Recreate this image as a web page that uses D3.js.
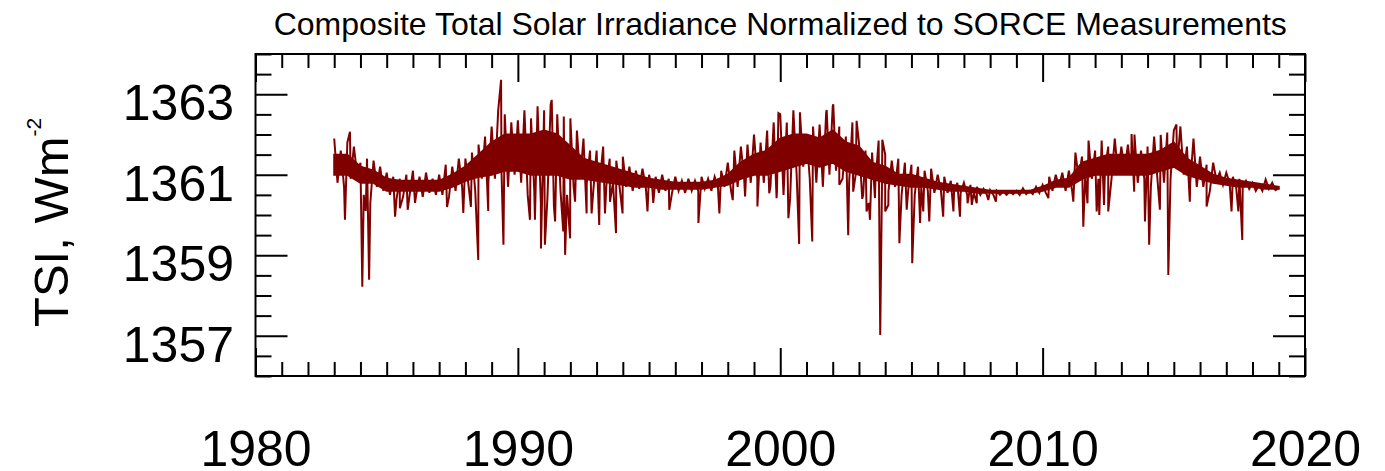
<!DOCTYPE html>
<html>
<head>
<meta charset="utf-8">
<script src="https://cdn.jsdelivr.net/npm/d3@7"></script>
<style>
  html, body { margin: 0; padding: 0; background: #fff; }
  svg { display: block; }
  text { font-family: "Liberation Sans", Arial, Helvetica, sans-serif; fill: #000; }
</style>
</head>
<body>
<svg id="chart" width="1385" height="471"></svg>
<script>
// ---------------- DATA ----------------
const titleText = "Composite Total Solar Irradiance Normalized to SORCE Measurements";
const yLabelMain = "TSI, Wm";
const yLabelSup = "-2";

const xTickLabels = [1980, 1990, 2000, 2010, 2020];
const yTickLabels = [1357, 1359, 1361, 1363];

// Excursions of the daily series, sampled every 1/8 year from 1983.0
// (alternating upper / lower excursions as read from the picture)
const baseStartYear = 1983;
const baseStepYears = 0.125;
const tsiBase = [
  1361.9, 1360.8, 1361.6, 1360.7, 1361.8, 1360.9, 1361.7, 1361.0,      // 1983
  1361.3, 1360.5, 1361.4, 1360.3, 1361.35, 1360.7, 1361.2, 1360.6,     // 1984
  1361.05, 1360.5, 1360.95, 1360.4, 1360.9, 1360.45, 1361.0, 1360.5,   // 1985
  1361.1, 1360.5, 1360.95, 1360.45, 1361.05, 1360.55, 1360.9, 1360.5,  // 1986
  1361.0, 1360.5, 1361.25, 1360.45, 1361.2, 1360.6, 1361.4, 1360.7,    // 1987
  1361.4, 1360.7, 1361.55, 1360.6, 1361.75, 1360.9, 1361.95, 1360.8,   // 1988
  1362.2, 1360.9, 1362.6, 1361.1, 1362.5, 1360.7, 1362.3, 1361.0,      // 1989
  1362.35, 1360.8, 1362.6, 1360.5, 1362.4, 1360.6, 1362.7, 1360.3,     // 1990
  1362.6, 1360.4, 1362.75, 1360.2, 1362.5, 1360.6, 1362.45, 1360.5,    // 1991
  1362.4, 1360.7, 1362.1, 1360.9, 1361.9, 1360.8, 1361.6, 1360.6,      // 1992
  1361.6, 1360.85, 1361.7, 1360.75, 1361.4, 1360.8, 1361.35, 1360.7,   // 1993
  1361.45, 1360.7, 1361.2, 1360.6, 1361.1, 1360.65, 1361.15, 1360.7,   // 1994
  1361.0, 1360.65, 1360.95, 1360.55, 1361.0, 1360.6, 1360.9, 1360.55,  // 1995
  1360.95, 1360.6, 1360.85, 1360.55, 1360.9, 1360.6, 1360.85, 1360.6,  // 1996
  1360.95, 1360.65, 1360.9, 1360.6, 1360.95, 1360.7, 1361.1, 1360.7,   // 1997
  1361.3, 1360.6, 1361.6, 1360.7, 1361.7, 1360.9, 1361.75, 1360.8,     // 1998
  1362.0, 1360.9, 1361.8, 1360.8, 1362.1, 1360.7, 1362.3, 1360.6,      // 1999
  1362.5, 1360.5, 1362.3, 1360.4, 1362.6, 1361.0, 1362.55, 1361.2,     // 2000
  1362.0, 1360.9, 1362.2, 1360.8, 1362.25, 1360.7, 1362.55, 1361.0,    // 2001
  1362.7, 1361.1, 1362.2, 1360.9, 1361.95, 1360.8, 1362.3, 1361.0,     // 2002
  1361.8, 1360.4, 1361.6, 1360.3, 1361.55, 1360.8, 1361.85, 1360.6,    // 2003
  1361.5, 1360.6, 1361.35, 1360.7, 1361.4, 1360.5, 1361.3, 1360.6,     // 2004
  1361.25, 1360.5, 1361.2, 1360.7, 1361.1, 1360.6, 1361.15, 1360.55,   // 2005
  1361.0, 1360.6, 1360.95, 1360.55, 1360.85, 1360.6, 1360.8, 1360.55,  // 2006
  1360.8, 1360.5, 1360.75, 1360.55, 1360.7, 1360.5, 1360.65, 1360.5,   // 2007
  1360.62, 1360.5, 1360.6, 1360.5, 1360.58, 1360.5, 1360.58, 1360.52,  // 2008
  1360.6, 1360.5, 1360.66, 1360.52, 1360.6, 1360.52, 1360.7, 1360.55,  // 2009
  1360.75, 1360.55, 1360.95, 1360.6, 1361.0, 1360.7, 1361.05, 1360.6,  // 2010
  1361.1, 1360.6, 1361.55, 1360.9, 1361.45, 1361.0, 1361.85, 1360.9,   // 2011
  1361.6, 1360.9, 1361.85, 1361.1, 1361.7, 1360.9, 1361.9, 1361.0,     // 2012
  1361.7, 1361.1, 1361.75, 1361.0, 1362.0, 1360.8, 1361.6, 1360.9,     // 2013
  1361.7, 1360.7, 1361.95, 1360.9, 1361.99, 1360.8, 1362.05, 1360.9,   // 2014
  1362.1, 1361.2, 1362.2, 1361.0, 1361.7, 1360.8, 1361.9, 1360.7,      // 2015
  1361.45, 1360.7, 1361.25, 1360.6, 1361.3, 1360.85, 1361.05, 1360.75, // 2016
  1361.05, 1360.8, 1360.95, 1360.7, 1360.9, 1360.7, 1360.85, 1360.65,  // 2017
  1360.8, 1360.6, 1360.75, 1360.6, 1360.88, 1360.65, 1360.8, 1360.62,  // 2018
  1360.66                                                              // 2019.0
];

// Solid core of the dense daily trace, every half year from 1983.0 (upper / lower edge)
const coreStepYears = 0.5;
const coreUpper = [
  1361.5, 1361.5, 1361.2, 1361.1, 1360.9, 1360.85, 1360.85, 1360.85, 1360.85, 1361.0,   // 1983.0-1987.5
  1361.2, 1361.5, 1361.8, 1362.0, 1362.0, 1362.0, 1362.1, 1362.0, 1361.7, 1361.4,       // 1988.0-1992.5
  1361.3, 1361.2, 1361.1, 1361.0, 1360.9, 1360.85, 1360.8, 1360.8, 1360.8, 1360.85,     // 1993.0-1997.5
  1361.0, 1361.3, 1361.5, 1361.6, 1361.9, 1362.0, 1362.0, 1361.9, 1362.1, 1361.8,       // 1998.0-2002.5
  1361.7, 1361.3, 1361.2, 1361.0, 1361.0, 1360.9, 1360.8, 1360.75, 1360.7, 1360.65,     // 2003.0-2007.5
  1360.6, 1360.6, 1360.6, 1360.6, 1360.7, 1360.85, 1360.9, 1361.3, 1361.4, 1361.5,      // 2008.0-2012.5
  1361.5, 1361.5, 1361.5, 1361.6, 1361.8, 1361.4, 1361.2, 1361.0, 1360.9, 1360.85,      // 2013.0-2017.5
  1360.8, 1360.75, 1360.7                                                               // 2018.0-2019.0
];
const coreLower = [
  1361.0, 1361.0, 1360.8, 1360.8, 1360.6, 1360.6, 1360.6, 1360.6, 1360.6, 1360.7,       // 1983.0-1987.5
  1360.85, 1360.95, 1361.0, 1361.1, 1361.1, 1361.0, 1361.0, 1361.0, 1360.9, 1360.9,     // 1988.0-1992.5
  1360.85, 1360.8, 1360.75, 1360.7, 1360.7, 1360.65, 1360.65, 1360.65, 1360.65, 1360.7, // 1993.0-1997.5
  1360.75, 1360.9, 1361.0, 1361.0, 1361.1, 1361.2, 1361.3, 1361.2, 1361.3, 1361.1,      // 1998.0-2002.5
  1361.0, 1360.9, 1360.8, 1360.75, 1360.7, 1360.7, 1360.65, 1360.6, 1360.6, 1360.55,    // 2003.0-2007.5
  1360.55, 1360.55, 1360.55, 1360.55, 1360.6, 1360.7, 1360.7, 1360.9, 1361.0, 1361.0,   // 2008.0-2012.5
  1361.0, 1361.0, 1361.0, 1361.1, 1361.2, 1361.0, 1360.9, 1360.8, 1360.75, 1360.7,      // 2013.0-2017.5
  1360.7, 1360.65, 1360.65                                                              // 2018.0-2019.0
];

// Individual spikes (sunspot dips and peaks)
const spikeYears = [
  1983.41, 1983.60, 1984.07, 1984.20, 1984.33, 1985.32, 1985.50, 1985.80, 1986.08,
  1987.30, 1987.92, 1988.21, 1988.49, 1988.87, 1989.36, 1989.45, 1990.46, 1990.65,
  1990.88, 1991.03, 1991.29, 1991.42, 1991.73, 1991.80, 1991.99, 1992.18, 1992.62,
  1992.81, 1993.10, 1993.32, 1993.51, 1993.74, 1993.99, 1994.94, 1995.16, 1995.77,
  1996.88, 1997.68, 1998.19, 1998.66, 1999.13, 1999.58, 1999.86, 1999.93, 2000.31,
  2000.72, 2001.22, 2001.77, 2002.02, 2002.25, 2002.59, 2002.78, 2002.91, 2003.16,
  2003.29, 2003.42, 2003.61, 2003.81, 2003.89, 2004.00, 2004.12, 2004.54, 2004.82,
  2005.03, 2005.33, 2005.45, 2005.68, 2006.21, 2006.60, 2006.85, 2007.14, 2007.30,
  2007.49, 2007.93, 2008.22, 2010.22, 2011.17, 2011.55, 2011.71, 2012.06, 2012.16,
  2012.34, 2012.50, 2013.39, 2013.49, 2013.90, 2014.06, 2014.47, 2014.79, 2015.10,
  2015.61, 2016.25, 2017.20, 2017.46, 2017.61
];
const spikeValues = [
  1359.88, 1362.07, 1358.22, 1360.10, 1358.39, 1359.96, 1360.17, 1360.13, 1360.30,
  1360.20, 1360.05, 1360.20, 1358.88, 1360.10, 1363.36, 1359.26, 1359.88, 1359.88,
  1359.17, 1359.26, 1362.86, 1359.84, 1359.59, 1359.01, 1359.42, 1360.33, 1360.04,
  1360.04, 1359.75, 1360.04, 1360.33, 1359.55, 1360.04, 1360.09, 1360.30, 1360.13,
  1359.80, 1360.04, 1360.37, 1360.46, 1360.21, 1360.54, 1360.42, 1362.53, 1359.92,
  1359.28, 1359.34, 1362.61, 1362.75, 1360.75, 1359.50, 1360.58, 1362.34, 1360.50,
  1360.09, 1359.88, 1360.42, 1357.02, 1361.87, 1360.09, 1360.25, 1359.30, 1360.13,
  1358.80, 1359.80, 1360.09, 1359.84, 1359.96, 1360.09, 1359.96, 1360.29, 1360.25,
  1360.29, 1360.37, 1360.33, 1360.42, 1360.33, 1359.71, 1360.29, 1360.09, 1360.00,
  1360.25, 1360.09, 1362.01, 1360.58, 1359.84, 1359.26, 1360.13, 1358.51, 1362.25,
  1360.33, 1360.21, 1360.09, 1360.09, 1359.38
];

// ---------------- CHART ----------------
const plot = { left: 255.5, right: 1305, top: 54, bottom: 376 };
const lineColor = "#800000";
const bigFont = 50;
const fontFam = '"Liberation Sans", Arial, Helvetica, sans-serif';

const svg = d3.select("#chart");

const x = d3.scaleLinear().domain([1980, 2020]).range([plot.left, plot.right]);
const y = d3.scaleLinear().domain([1356, 1364]).range([plot.bottom, plot.top]);

const points = tsiBase.map((v, i) => ({ t: baseStartYear + i * baseStepYears, v }))
  .concat(spikeYears.map((t, i) => ({ t, v: spikeValues[i] })))
  .sort((a, b) => a.t - b.t);

const core = coreUpper.map((u, i) => ({ t: baseStartYear + i * coreStepYears, u, l: coreLower[i] }));

svg.append("clipPath").attr("id", "clip")
  .append("rect")
  .attr("x", plot.left).attr("y", plot.top)
  .attr("width", plot.right - plot.left).attr("height", plot.bottom - plot.top);

const dataG = svg.append("g").attr("clip-path", "url(#clip)");

// dense core band
dataG.append("path")
  .datum(core)
  .attr("fill", lineColor)
  .attr("stroke", lineColor)
  .attr("stroke-width", 2)
  .attr("d", d3.area().x(d => x(d.t)).y0(d => y(d.l)).y1(d => y(d.u)));

// excursions and spikes
dataG.append("path")
  .datum(points)
  .attr("fill", "none")
  .attr("stroke", lineColor)
  .attr("stroke-width", 2)
  .attr("stroke-linejoin", "miter")
  .attr("d", d3.line().x(d => x(d.t)).y(d => y(d.v)));

// ticks
const minorX = x.ticks(40).filter(d => !xTickLabels.includes(d));
const minorY = y.ticks(16).filter(d => !yTickLabels.includes(d));

function styleAxis(g) {
  g.select(".domain").remove();
  g.selectAll(".tick line").attr("stroke", "#000").attr("stroke-width", 2);
}

// bottom
svg.append("g").attr("transform", `translate(0,${plot.bottom})`)
  .call(d3.axisBottom(x).tickValues(minorX).tickSize(-14).tickSizeOuter(0).tickFormat(""))
  .call(styleAxis);
svg.append("g").attr("transform", `translate(0,${plot.bottom})`)
  .call(d3.axisBottom(x).tickValues(xTickLabels).tickSize(-28).tickSizeOuter(0).tickFormat(d3.format("d")))
  .call(styleAxis)
  .call(g => g.selectAll(".tick text")
    .attr("y", 90).attr("dy", 0)
    .attr("font-size", bigFont)
    .attr("font-family", fontFam)
    .attr("fill", "#000"));

// top
svg.append("g").attr("transform", `translate(0,${plot.top})`)
  .call(d3.axisTop(x).tickValues(minorX).tickSize(-14).tickSizeOuter(0).tickFormat(""))
  .call(styleAxis);
svg.append("g").attr("transform", `translate(0,${plot.top})`)
  .call(d3.axisTop(x).tickValues(xTickLabels).tickSize(-28).tickSizeOuter(0).tickFormat(""))
  .call(styleAxis);

// left
svg.append("g").attr("transform", `translate(${plot.left},0)`)
  .call(d3.axisLeft(y).tickValues(minorY).tickSize(-16).tickSizeOuter(0).tickFormat(""))
  .call(styleAxis);
svg.append("g").attr("transform", `translate(${plot.left},0)`)
  .call(d3.axisLeft(y).tickValues(yTickLabels).tickSize(-32).tickSizeOuter(0).tickFormat(d3.format("d")))
  .call(styleAxis)
  .call(g => g.selectAll(".tick text")
    .attr("x", -21.5).attr("y", 25.5).attr("dy", 0)
    .attr("text-anchor", "end")
    .attr("font-size", bigFont)
    .attr("font-family", fontFam)
    .attr("fill", "#000"));

// right
svg.append("g").attr("transform", `translate(${plot.right},0)`)
  .call(d3.axisRight(y).tickValues(minorY).tickSize(-16).tickSizeOuter(0).tickFormat(""))
  .call(styleAxis);
svg.append("g").attr("transform", `translate(${plot.right},0)`)
  .call(d3.axisRight(y).tickValues(yTickLabels).tickSize(-32).tickSizeOuter(0).tickFormat(""))
  .call(styleAxis);

// frame
svg.append("rect")
  .attr("x", plot.left).attr("y", plot.top)
  .attr("width", plot.right - plot.left).attr("height", plot.bottom - plot.top)
  .attr("fill", "none").attr("stroke", "#000").attr("stroke-width", 2);

// title
svg.append("text")
  .attr("x", (plot.left + plot.right) / 2).attr("y", 35)
  .attr("text-anchor", "middle")
  .attr("font-size", 32)
  .text(titleText);

// y-axis label
const yl = svg.append("text")
  .attr("transform", "translate(68,327) rotate(-90)")
  .attr("text-anchor", "start")
  .attr("font-size", 49);
yl.append("tspan").text(yLabelMain);
yl.append("tspan").attr("font-size", 21).attr("dy", -27).text(yLabelSup);
</script>
</body>
</html>
